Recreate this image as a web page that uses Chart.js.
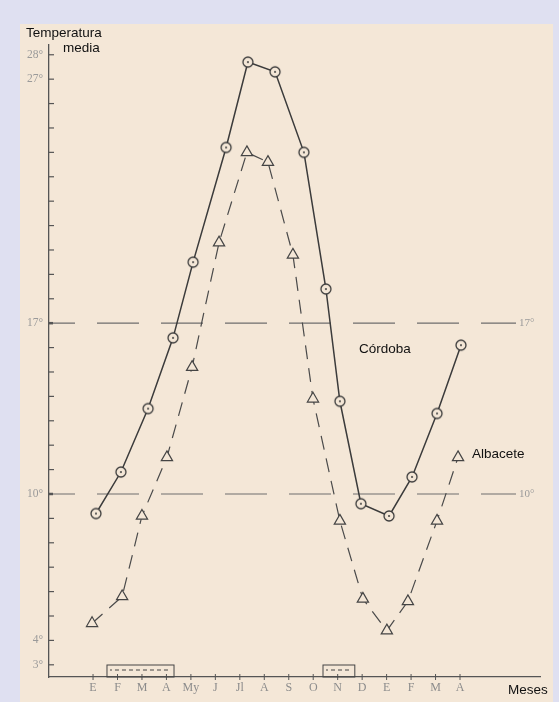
<!DOCTYPE html>
<html lang="es">
<head>
<meta charset="UTF-8">
<title>Temperatura media - Córdoba y Albacete</title>
<script src="https://cdn.jsdelivr.net/npm/chart.js@4/dist/chart.umd.min.js"></script>
<style>
  html, body { margin: 0; padding: 0; }
  body {
    width: 559px;
    height: 702px;
    background: #dfe0f1;
    position: relative;
    overflow: hidden;
  }
  .paper {
    position: absolute;
    left: 20px;
    top: 24px;
    right: 6px;
    bottom: 0;
    background: #f4e7d7;
  }
  .chart-wrapper {
    position: absolute;
    left: 0;
    top: 0;
    width: 559px;
    height: 702px;
  }
</style>
</head>
<body>
<div class="paper"></div>
<div class="chart-wrapper"><canvas id="tempChart" width="559" height="702"></canvas></div>
<script>
// meses (enero a abril del año siguiente)
const months = ["E", "F", "M", "A", "My", "J", "Jl", "A", "S", "O", "N", "D", "E", "F", "M", "A"];

// Córdoba: posición en el eje de meses y temperatura media (°C)
const cordobaMonth = [0.12, 1.14, 2.25, 3.27, 4.09, 5.44, 6.33, 7.44, 8.62, 9.52, 10.09, 10.95, 12.1, 13.04, 14.06, 15.04];
const cordobaTemp = [9.2, 10.9, 13.5, 16.4, 19.5, 24.2, 27.7, 27.3, 24.0, 18.4, 13.8, 9.6, 9.1, 10.7, 13.3, 16.1];

// Albacete
const albaceteMonth = [-0.04, 1.19, 2.0, 3.02, 4.05, 5.15, 6.29, 7.15, 8.17, 8.99, 10.09, 11.03, 12.01, 12.87, 14.06, 14.92];
const albaceteTemp = [4.7, 5.8, 9.1, 11.5, 15.2, 20.3, 24.0, 23.6, 19.8, 13.9, 8.9, 5.7, 4.4, 5.6, 8.9, 11.5];

// escala de temperaturas
const yTicks = [3, 4, 5, 6, 7, 8, 9, 10, 11, 12, 13, 14, 15, 16, 17, 18, 19, 20, 21, 22, 23, 24, 25, 26, 27, 28];
const yLabels = [3, 4, 10, 17, 27, 28];
const refLines = [10, 17];

// periodos marcados sobre el eje (en meses)
const periods = [[0.57, 3.31], [9.4, 10.7]];

const ink = "#3b3b3b";
const paper = "#f4e7d7";

// circulo con punto central
function ringDot(r, color) {
  const c = document.createElement("canvas");
  c.width = c.height = 2 * r + 4;
  const g = c.getContext("2d");
  g.strokeStyle = color;
  g.lineWidth = 1.3;
  g.fillStyle = paper;
  g.beginPath();
  g.arc(r + 2, r + 2, r, 0, Math.PI * 2);
  g.fill();
  g.stroke();
  g.fillStyle = color;
  g.beginPath();
  g.arc(r + 2, r + 2, 1, 0, Math.PI * 2);
  g.fill();
  return c;
}

const paperMarks = {
  id: "paperMarks",
  beforeDatasetsDraw(chart) {
    const { ctx, chartArea, scales: { x, y } } = chart;
    ctx.save();

    // lineas de 10° y 17°
    ctx.strokeStyle = "#6e6e6e";
    ctx.lineWidth = 1.2;
    ctx.setLineDash([42, 22]);
    ctx.lineDashOffset = 16;
    ctx.font = "11px 'Liberation Serif', serif";
    ctx.fillStyle = "#9a9a9a";
    ctx.textBaseline = "middle";
    refLines.forEach(v => {
      const py = y.getPixelForValue(v);
      ctx.beginPath();
      ctx.moveTo(chartArea.left, py);
      ctx.lineTo(chartArea.right - 24, py);
      ctx.stroke();
      ctx.fillText(v + "°", chartArea.right - 21, py);
    });
    ctx.setLineDash([]);

    // marcas del eje vertical
    ctx.strokeStyle = "#555";
    yTicks.forEach(v => {
      const py = y.getPixelForValue(v);
      const bold = refLines.includes(v);
      ctx.lineWidth = bold ? 2.5 : 1.2;
      ctx.beginPath();
      ctx.moveTo(chartArea.left, py);
      ctx.lineTo(chartArea.left + (bold ? 4 : 5), py);
      ctx.stroke();
    });

    // marcas del eje de meses
    ctx.lineWidth = 1;
    months.forEach((m, i) => {
      const px = x.getPixelForValue(i);
      ctx.beginPath();
      ctx.moveTo(px, chartArea.bottom - 3);
      ctx.lineTo(px, chartArea.bottom + 3);
      ctx.stroke();
    });

    // periodos
    ctx.strokeStyle = "#444";
    ctx.lineWidth = 1;
    periods.forEach(([a, b]) => {
      const x0 = x.getPixelForValue(a);
      const x1 = x.getPixelForValue(b);
      const top = chartArea.bottom - 12;
      ctx.strokeRect(x0, top, x1 - x0, 12);
      ctx.setLineDash([4, 3]);
      ctx.beginPath();
      ctx.moveTo(x0 + 3, top + 5);
      ctx.lineTo(x1 - 3, top + 5);
      ctx.stroke();
      ctx.setLineDash([]);
    });

    ctx.restore();
  },
  afterDraw(chart) {
    const { ctx } = chart;
    ctx.save();
    ctx.fillStyle = "#111";
    ctx.font = "13.5px 'Liberation Sans', Arial, sans-serif";
    ctx.textBaseline = "alphabetic";
    ctx.fillText("Temperatura", 26, 37);
    ctx.fillText("media", 63, 52);
    ctx.fillText("Córdoba", 359, 353);
    ctx.fillText("Albacete", 472, 458);
    ctx.fillText("Meses", 508, 694);
    ctx.restore();
  }
};

new Chart(document.getElementById("tempChart"), {
  type: "line",
  data: {
    datasets: [
      {
        label: "Córdoba",
        data: cordobaMonth.map((m, i) => ({ x: m, y: cordobaTemp[i] })),
        borderColor: ink,
        borderWidth: 1.5,
        pointStyle: ringDot(5, ink),
        pointRadius: 5,
        tension: 0
      },
      {
        label: "Albacete",
        data: albaceteMonth.map((m, i) => ({ x: m, y: albaceteTemp[i] })),
        borderColor: "#4a4a4a",
        borderWidth: 1.2,
        borderDash: [14, 9],
        pointStyle: "triangle",
        pointRadius: 6.5,
        pointBackgroundColor: paper,
        pointBorderColor: "#444",
        pointBorderWidth: 1.2,
        tension: 0
      }
    ]
  },
  options: {
    responsive: false,
    animation: false,
    layout: { padding: { top: 45, right: 19, left: 0, bottom: 0 } },
    plugins: {
      legend: { display: false },
      tooltip: { enabled: false }
    },
    scales: {
      x: {
        type: "linear",
        min: -1.8,
        max: 18.27,
        afterBuildTicks: s => { s.ticks = months.map((m, i) => ({ value: i })); },
        afterFit: s => { s.height = 25; },
        ticks: {
          autoSkip: false,
          maxRotation: 0,
          padding: 4,
          color: "#8c8c8c",
          font: { family: "'Liberation Serif', serif", size: 12 },
          callback: v => months[v]
        },
        grid: { display: false, drawTicks: false },
        border: { color: "#555", width: 1.3 }
      },
      y: {
        type: "linear",
        min: 2.5,
        max: 28.4,
        afterBuildTicks: s => { s.ticks = yTicks.map(v => ({ value: v })); },
        afterFit: s => { s.width = 49; },
        ticks: {
          autoSkip: false,
          padding: 6,
          color: "#9a9a9a",
          font: { family: "'Liberation Serif', serif", size: 11.5 },
          callback: v => (yLabels.includes(v) ? v + "°" : "")
        },
        grid: { display: false, drawTicks: false },
        border: { color: "#555", width: 1.3 }
      }
    }
  },
  plugins: [paperMarks]
});
</script>
</body>
</html>
